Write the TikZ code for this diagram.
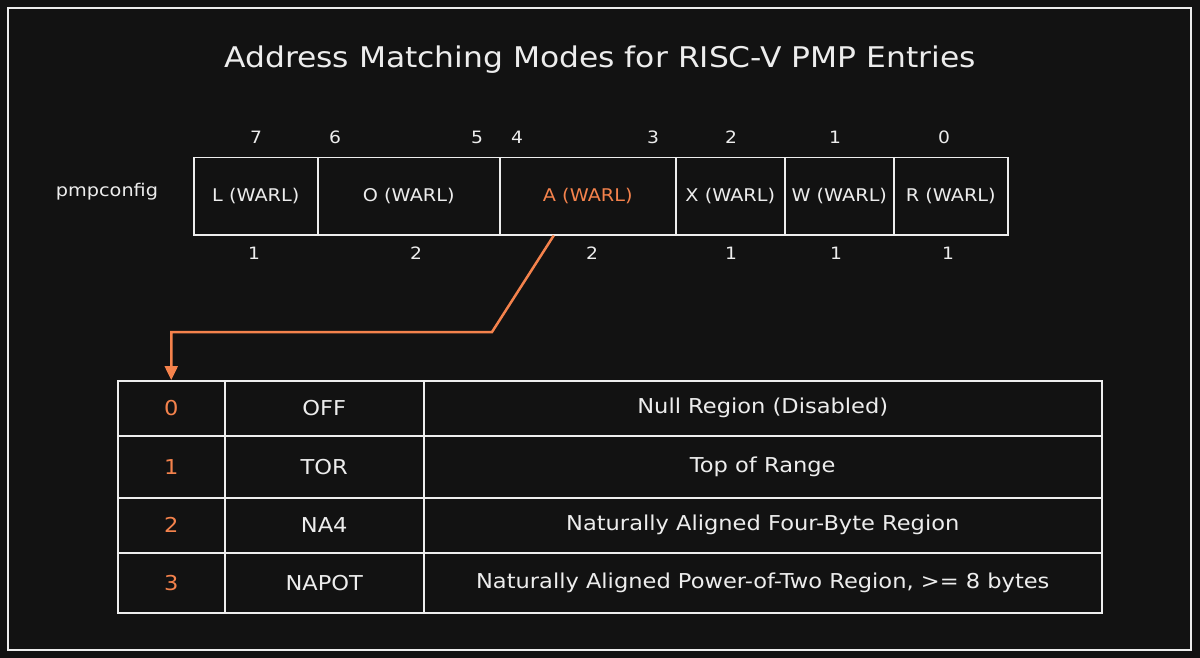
\documentclass[tikz,border=0pt]{standalone}
\usepackage{fontspec}
\setmainfont{DejaVu Sans}[FakeStretch=1.1]
\usetikzlibrary{arrows.meta}
\definecolor{bgdark}{HTML}{121212}
\definecolor{ink}{HTML}{EDEDED}
\definecolor{accent}{HTML}{F4824C}

\begin{document}
\begin{tikzpicture}[x=1pt,y=-1pt,font=\fontsize{17.5}{21}\selectfont,text=ink,
  cell/.style={draw=ink,line width=1.5pt,minimum height=77pt,inner sep=0pt,anchor=north west},
  tcell/.style={draw=ink,line width=1.5pt,inner sep=0pt,anchor=north west,font=\fontsize{20.5}{24}\selectfont},
  lbl/.style={inner sep=0pt},
  num/.style={inner sep=0pt,font=\fontsize{17}{20}\selectfont},
  arr/.style={-{Triangle[length=14pt,width=13pt]},draw=accent,line width=2.5pt}]
  \fill[bgdark] (0,0) rectangle (1200,658);
  \draw[ink,line width=1.5pt] (8,8) rectangle (1191,650);
  \node[lbl,font=\fontsize{28.5}{34}\selectfont](title) at (600,60){Address Matching Modes for RISC-V PMP Entries};
  % pmpconfig register
  \node[lbl](reg) at (107,192){pmpconfig};
  \node[cell,minimum width=124pt](lw) at (193,157){L (WARL)};
  \node[cell,minimum width=182pt](ow) at (317,157){O (WARL)};
  \node[cell,minimum width=176pt,text=accent](aw) at (499,157){A (WARL)};
  \node[cell,minimum width=109pt](xw) at (675,157){X (WARL)};
  \node[cell,minimum width=109pt](ww) at (784,157){W (WARL)};
  \node[cell,minimum width=114pt](rw) at (893,157){R (WARL)};
  \foreach \b/\x in {7/256,6/335,5/477,4/517,3/653,2/731,1/835,0/944}
    \node[num](bit\b) at (\x,137){\b};
  \foreach \n/\x/\w in {l/254/1,o/416/2,a/592/2,x/731/1,w/836/1,r/948/1}
    \node[num](len\n) at (\x,253){\w};
  % modes of field A
  \foreach \i/\y/\h/\m/\d in {0/380/55/OFF/Null Region (Disabled),1/435/62/TOR/Top of Range,
      2/497/55/NA4/Naturally Aligned Four-Byte Region,{3/552/60/NAPOT/Naturally Aligned Power-of-Two Region, >= 8 bytes}}{
    \node[tcell,minimum width=107pt,minimum height=\h pt,text=accent](v\i) at (117,\y){\i};
    \node[tcell,minimum width=199pt,minimum height=\h pt](m\i) at (224,\y){\m};
    \node[tcell,minimum width=678pt,minimum height=\h pt](d\i) at (423,\y){\d};
  }
  \draw[arr]([xshift=-34pt]aw.south)--(492,332)--(v0.north |- 0,332)--(v0.north);
\end{tikzpicture}
\end{document}
